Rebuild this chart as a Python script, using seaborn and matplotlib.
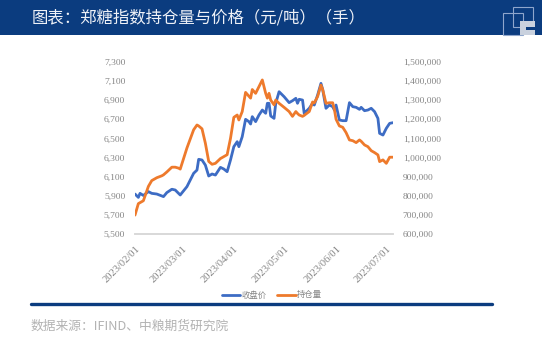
import matplotlib
matplotlib.use("Agg")
import matplotlib.pyplot as plt
import seaborn as sns
import pandas as pd
from matplotlib.patches import Rectangle
from matplotlib.lines import Line2D

# ---------------- data ----------------
dates = [
    "2023-02-01", "2023-02-03", "2023-02-04", "2023-02-06", "2023-02-09", "2023-02-11", "2023-02-14",
    "2023-02-17", "2023-02-18", "2023-02-20", "2023-02-23", "2023-02-25", "2023-02-27", "2023-02-28",
    "2023-03-04", "2023-03-08", "2023-03-10", "2023-03-11", "2023-03-13", "2023-03-15", "2023-03-17",
    "2023-03-19", "2023-03-21", "2023-03-24", "2023-03-26", "2023-03-28", "2023-03-30",
    "2023-04-01", "2023-04-03", "2023-04-04", "2023-04-06", "2023-04-08", "2023-04-10", "2023-04-11",
    "2023-04-12", "2023-04-14", "2023-04-16", "2023-04-18", "2023-04-20", "2023-04-21", "2023-04-22",
    "2023-04-23", "2023-04-25", "2023-04-26", "2023-04-28", "2023-05-01",
    "2023-05-04", "2023-05-06", "2023-05-08", "2023-05-09", "2023-05-10", "2023-05-12", "2023-05-13",
    "2023-05-14", "2023-05-16", "2023-05-18", "2023-05-19", "2023-05-21", "2023-05-23", "2023-05-24",
    "2023-05-26", "2023-05-28", "2023-05-30", "2023-05-31", "2023-06-01",
    "2023-06-03", "2023-06-05", "2023-06-07", "2023-06-09", "2023-06-11", "2023-06-13", "2023-06-15",
    "2023-06-16", "2023-06-18", "2023-06-20", "2023-06-22", "2023-06-24", "2023-06-26", "2023-06-27",
    "2023-06-29", "2023-07-01", "2023-07-03", "2023-07-05",
]
close_price = [
    5920, 5885, 5927, 5905, 5945, 5927, 5920, 5900, 5893, 5935, 5970, 5962, 5927, 5910,
    5997, 6136, 6170, 6282, 6275, 6222, 6108, 6129, 6118, 6198, 6181, 6153, 6275,
    6414, 6466, 6414, 6518, 6699, 6675, 6650, 6727, 6675, 6744, 6796, 6762, 6866, 6866,
    6734, 6709, 6866, 6987, 6935,
    6873, 6893, 6918, 6866, 6908, 6900, 6761, 6779, 6814, 6866, 6848, 6952, 7074, 7012,
    6814, 6848, 6831, 6796, 6848,
    6692, 6685, 6685, 6873, 6831, 6824, 6803, 6824, 6789, 6796, 6814, 6779, 6709, 6553,
    6535, 6605, 6657, 6664,
]
open_interest = [
    700000, 760000, 765000, 775000, 850000, 880000, 895000, 905000, 910000, 925000, 950000, 950000, 945000, 940000,
    1050000, 1145000, 1170000, 1165000, 1150000, 1075000, 980000, 965000, 970000, 995000, 1005000, 1015000, 1100000,
    1210000, 1222000, 1196000, 1240000, 1340000, 1320000, 1310000, 1355000, 1335000, 1370000, 1405000, 1335000,
    1310000, 1335000, 1300000, 1275000, 1300000, 1283000, 1262000,
    1240000, 1215000, 1240000, 1230000, 1222000, 1215000, 1220000, 1227000, 1240000, 1290000, 1285000, 1318000,
    1378000, 1356000, 1283000, 1286000, 1286000, 1252000, 1200000,
    1165000, 1158000, 1130000, 1092000, 1088000, 1078000, 1092000, 1085000, 1066000, 1057000, 1036000, 1026000,
    1014000, 979000, 988000, 970000, 1002000, 1002000,
]
x_tick_dates = ["2023-02-01", "2023-03-01", "2023-04-01", "2023-05-01", "2023-06-01", "2023-07-01"]
x_tick_labels = ["2023/02/01", "2023/03/01", "2023/04/01", "2023/05/01", "2023/06/01", "2023/07/01"]
left_ticks = [5500, 5700, 5900, 6100, 6300, 6500, 6700, 6900, 7100, 7300]
right_ticks = [600000, 700000, 800000, 900000, 1000000, 1100000, 1200000, 1300000, 1400000, 1500000]
series_names = ["收盘价", "持仓量"]
title = "图表：郑糖指数持仓量与价格（元/吨）（手）"
source = "数据来源：IFIND、中粮期货研究院"

# ---------------- style ----------------
BLUE = "#3d6cc4"
ORANGE = "#ee7a2c"
NAVY = "#0b3c7f"
GRAY = "#858585"

sns.set_theme(style="white")
plt.rcParams["font.family"] = ["Noto Sans CJK SC", "DejaVu Sans"]

W, H = 542, 342
fig = plt.figure(figsize=(W / 100, H / 100), dpi=100)

def fx(px):
    return px / W

def fy(py):
    return 1 - py / H

# header band
fig.patches.append(Rectangle((0, fy(35)), 1, 35 / H, transform=fig.transFigure,
                             facecolor=NAVY, edgecolor="none", zorder=0))
fig.text(fx(32), fy(18), title, color="#eef1f7", fontsize=11.8, va="center", ha="left")
# logo
fig.patches.append(Rectangle((fx(513), fy(27)), 20 / W, 20 / H, transform=fig.transFigure,
                             facecolor="none", edgecolor="#8fa6cc", lw=0.8, zorder=1))
fig.patches.append(Rectangle((fx(503), fy(35)), 20 / W, 22 / H, transform=fig.transFigure,
                             facecolor="none", edgecolor="#8fa6cc", lw=0.8, zorder=1))
fig.patches.append(Rectangle((fx(520), fy(35)), 15 / W, 14 / H, transform=fig.transFigure,
                             facecolor="#c9d1de", edgecolor="none", zorder=1))
fig.patches.append(Rectangle((fx(526), fy(30)), 9 / W, 3 / H, transform=fig.transFigure,
                             facecolor=NAVY, edgecolor="none", zorder=2))

# ---------------- chart ----------------
df = pd.DataFrame({"date": pd.to_datetime(dates), series_names[0]: close_price,
                   series_names[1]: open_interest})

ax = fig.add_axes([fx(135), fy(234.3), (393 - 135) / W, (234.3 - 61.7) / H])
sns.lineplot(data=df, x="date", y=series_names[0], ax=ax, color=BLUE, lw=2.0)
ax2 = ax.twinx()
sns.lineplot(data=df, x="date", y=series_names[1], ax=ax2, color=ORANGE, lw=2.0)

ax.set_xlim(df["date"].min(), df["date"].max())
ax.set_ylim(left_ticks[0], left_ticks[-1])
ax2.set_ylim(right_ticks[0], right_ticks[-1])
ax.set_yticks(left_ticks)
ax.set_yticklabels([f"{v:,}" for v in left_ticks])
ax2.set_yticks(right_ticks)
ax2.set_yticklabels([f"{v:,}" for v in right_ticks])
ax.set_xticks(pd.to_datetime(x_tick_dates))
ax.set_xticklabels(x_tick_labels, rotation=45, ha="right", va="top", rotation_mode="anchor")

for a in (ax, ax2):
    a.set_xlabel("")
    a.set_ylabel("")
    for s in ("left", "right", "top"):
        a.spines[s].set_visible(False)
    a.spines["bottom"].set_color("#d9d9d9")
    a.grid(False)
    a.patch.set_alpha(0)

ax.tick_params(axis="y", length=0, pad=7, labelsize=6.8, labelcolor=GRAY)
ax2.tick_params(axis="y", length=0, pad=7, labelsize=6.8, labelcolor=GRAY)
ax.tick_params(axis="x", length=3, width=0.6, color="#d9d9d9", direction="out",
               pad=4, labelsize=7.6, labelcolor=GRAY)
for lab in ax.get_yticklabels() + ax2.get_yticklabels() + ax.get_xticklabels():
    lab.set_family(["Liberation Serif", "DejaVu Serif"])

# legend
handles = [Line2D([], [], color=BLUE, lw=2), Line2D([], [], color=ORANGE, lw=2)]
fig.legend(handles, series_names, loc="center", bbox_to_anchor=(fx(272), fy(295)),
           ncol=2, frameon=False, fontsize=6, handlelength=2.2, handletextpad=0.15,
           columnspacing=1.3, labelcolor=GRAY)

# bottom rule and source
fig.add_artist(Line2D([fx(31), fx(492)], [fy(304), fy(304)], transform=fig.transFigure,
                      color=NAVY, lw=2.4))
fig.text(fx(31), fy(326), source, color="#b3b3b3", fontsize=9.2, ha="left", va="center")

fig.savefig("out.png", dpi=100)
